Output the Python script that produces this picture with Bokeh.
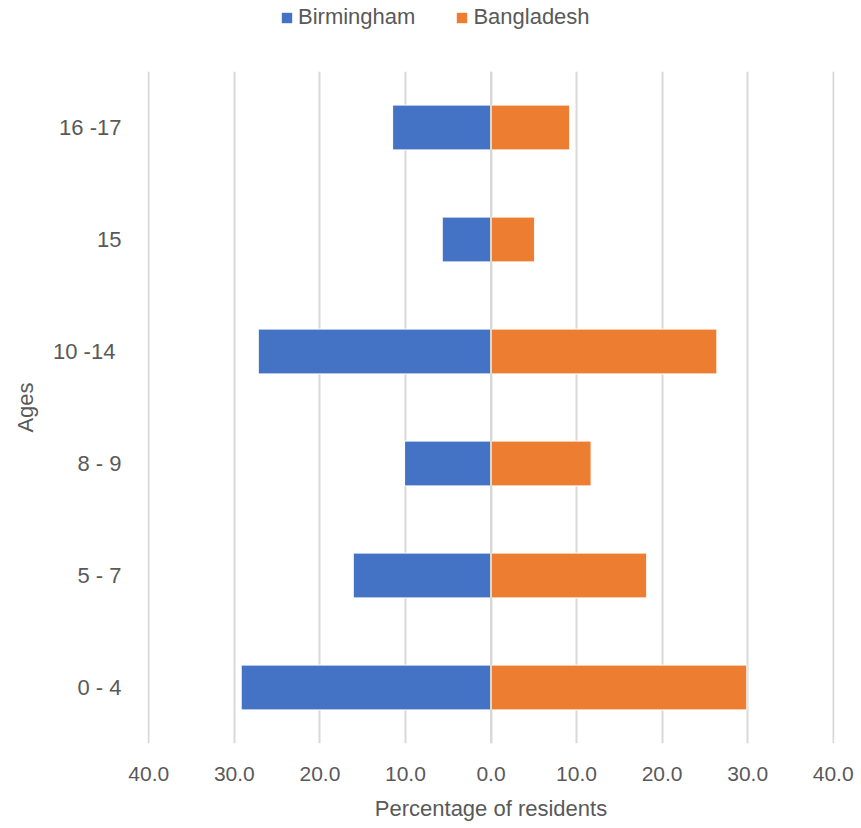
import numpy as np
from bokeh.plotting import figure
from bokeh.layouts import column
from bokeh.models import ColumnDataSource, FixedTicker, CustomJSTickFormatter, Legend, LegendItem, Range1d, FactorRange, Span
from bokeh.embed import file_html
from bokeh.resources import INLINE

ages = ["0 - 4", "5 - 7", "8 - 9", "10 -14 ", "15", "16 -17"]
birmingham = [29.2, 16.1, 10.1, 27.2, 5.7, 11.5]
bangladesh = [29.9, 18.2, 11.7, 26.4, 5.1, 9.2]
x_ticks = [-40, -30, -20, -10, 0, 10, 20, 30, 40]
series = ["Birmingham", "Bangladesh"]
colors = ["#4472C4", "#ED7D31"]

FONT = "Liberation Sans"
GREY = "#595959"
GRID = "#d9d9d9"

src = ColumnDataSource(dict(
    ages=ages,
    bham_left=[-v for v in birmingham],
    zero=[0] * len(ages),
    bang=bangladesh,
))

# ---- legend strip on top ----
lg = figure(width=861, height=71, output_backend="svg", toolbar_location=None,
            x_range=Range1d(0, 1), y_range=Range1d(0, 1),
            x_axis_location=None, y_axis_location=None,
            min_border_left=0, min_border_right=0, min_border_top=0, min_border_bottom=0)
lg.outline_line_color = None
lg.xgrid.grid_line_color = None
lg.ygrid.grid_line_color = None
dummy = ColumnDataSource(dict(y=np.array([np.nan]), left=np.array([np.nan]), right=np.array([np.nan])))
lr = [lg.hbar(y="y", left="left", right="right", height=1, source=dummy,
              fill_color=c, line_color=None) for c in colors]
legend = Legend(items=[LegendItem(label=s, renderers=[r]) for s, r in zip(series, lr)],
                orientation="horizontal", location=(133, 41),
                label_text_font=FONT, label_text_color=GREY, label_text_font_size="22px",
                glyph_width=13, glyph_height=13, spacing=40, border_line_color=None,
                background_fill_alpha=0, label_standoff=5, padding=0, margin=0)
lg.add_layout(legend, "center")

# ---- main chart ----
p = figure(width=861, height=757, output_backend="svg", toolbar_location=None,
           y_range=FactorRange(*ages, range_padding=0), x_range=Range1d(-40.15, 40.15),
           min_border_left=147, min_border_right=27, min_border_top=0, min_border_bottom=85)
p.outline_line_color = None

p.hbar(y="ages", left="bham_left", right="zero", height=0.4, source=src,
       fill_color=colors[0], line_color="white", line_width=1)
p.hbar(y="ages", left="zero", right="bang", height=0.4, source=src,
       fill_color=colors[1], line_color="white", line_width=1)

p.add_layout(Span(location=0, dimension="height", line_color=GRID, line_width=2))

p.xaxis.ticker = FixedTicker(ticks=x_ticks)
p.xaxis.formatter = CustomJSTickFormatter(code="return Math.abs(tick).toFixed(1);")
p.xaxis.axis_label = "Percentage of residents"
p.yaxis.axis_label = "Ages"
for ax in (p.xaxis[0], p.yaxis[0]):
    ax.axis_line_color = None
    ax.major_tick_line_color = None
    ax.minor_tick_line_color = None
    ax.major_label_text_font = FONT
    ax.major_label_text_color = GREY
    ax.major_label_text_font_size = "21px"
    ax.axis_label_text_font = FONT
    ax.axis_label_text_color = GREY
    ax.axis_label_text_font_size = "22px"
    ax.axis_label_text_font_style = "normal"
p.yaxis.major_label_text_font_size = "22px"
p.xaxis.major_label_standoff = 17
p.xaxis.axis_label_standoff = 12
p.yaxis.major_label_standoff = 20
p.yaxis.axis_label_standoff = 12

p.xgrid.grid_line_color = GRID
p.xgrid.grid_line_width = 2
p.ygrid.grid_line_color = None

layout = column(lg, p, spacing=0)
open("out.html", "w").write(file_html(layout, INLINE))
